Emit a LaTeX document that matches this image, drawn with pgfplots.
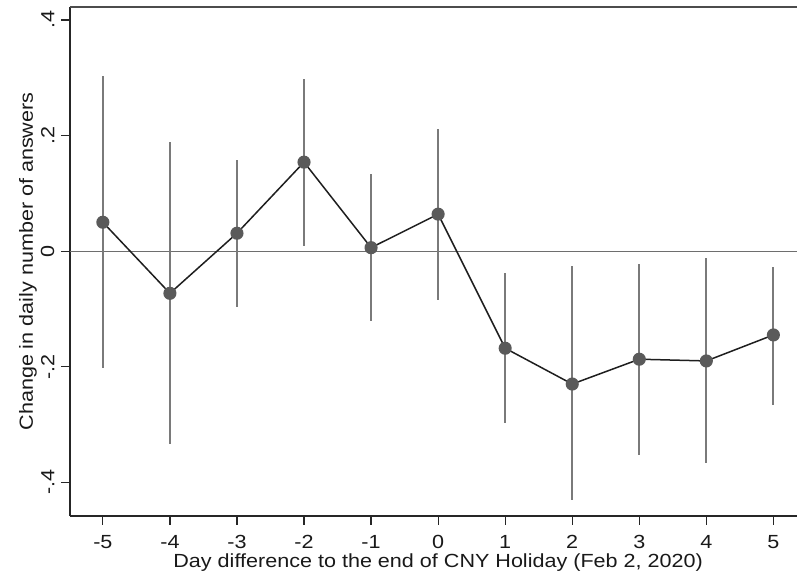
\documentclass[border=0pt]{standalone}
\usepackage{fontspec}
\setmainfont{Liberation Sans}[FakeStretch=1.135]
\usepackage{pgfplots}
\pgfplotsset{compat=1.18}
\usepackage{pgfplotstable}
\definecolor{ci}{HTML}{7A7A7A}
\definecolor{pt}{HTML}{5A5A5A}
\definecolor{ln}{HTML}{1E1E1E}
\definecolor{zl}{HTML}{6E6E6E}

\pgfplotstableread{
x y hi lo
-5 0.050 0.303 -0.203
-4 -0.073 0.188 -0.334
-3 0.031 0.157 -0.096
-2 0.154 0.298 0.009
-1 0.006 0.133 -0.121
0 0.064 0.212 -0.085
1 -0.168 -0.037 -0.298
2 -0.230 -0.025 -0.431
3 -0.187 -0.022 -0.352
4 -0.190 -0.012 -0.367
5 -0.145 -0.027 -0.266
}\coefs

\begin{document}
\fontsize{9.5}{11}\selectfont
\begin{tikzpicture}
\begin{axis}[name=ax, at={(0,0)}, anchor=south west,
  scale only axis, width=363.5pt, height=254.5pt,
  xmin=-5.490, xmax=5.352, ymin=-0.4583, ymax=0.4225,
  axis x line*=bottom, axis y line*=left,
  axis line style={-, line width=1pt, draw=black!85},
  tick align=outside, major tick length=4.5pt,
  tick style={line width=0.6pt, draw=black!85},
  xtick={-5,-4,-3,-2,-1,0,1,2,3,4,5},
  xticklabels={-5,-4,-3,-2,-1,0,1,2,3,4,5},
  ytick={-0.4,-0.2,0,0.2,0.4},
  yticklabels={-.4,-.2,0,.2,.4},
  /pgf/number format/assume math mode=true,
  every tick label/.append style={font=\fontsize{9.5}{11}\selectfont, text=black!90},
  yticklabel style={rotate=90, anchor=south},
  xticklabel style={yshift=-2pt},
  clip=false,
]
\addplot[zl, line width=0.6pt, no marks] coordinates {(-5.490,0) (5.352,0)};
\addplot[draw=none, no marks,
  error bars/.cd, y dir=both, y explicit, error mark=none,
  error bar style={draw=ci, line width=1pt, solid}]
  table[x=x, y=y, y error plus expr=\thisrow{hi}-\thisrow{y}, y error minus expr=\thisrow{y}-\thisrow{lo}] {\coefs};
\addplot[ln, line width=0.75pt, mark=*, mark size=2.9pt, mark options={draw=pt, fill=pt, solid}]
  table[x=x, y=y] {\coefs};
\coordinate (yl) at (rel axis cs:0,0.5);
\coordinate (xl) at (rel axis cs:0.5064,0);
\end{axis}
\draw[black!70, line width=0.8pt] (ax.north west) -- (ax.north east);
\node[rotate=90, anchor=base, inner sep=0pt, text=black!90] at ([xshift=-18.5pt]yl) {Change in daily number of answers};
\node[anchor=base, inner sep=0pt, text=black!90] at ([yshift=-25.8pt]xl) {Day difference to the end of CNY Holiday (Feb 2, 2020)};
\pgfresetboundingbox
\path[use as bounding box] ([xshift=-35pt, yshift=-29.5pt]ax.south west) rectangle ([yshift=3.5pt]ax.north east);
\end{tikzpicture}
\end{document}
